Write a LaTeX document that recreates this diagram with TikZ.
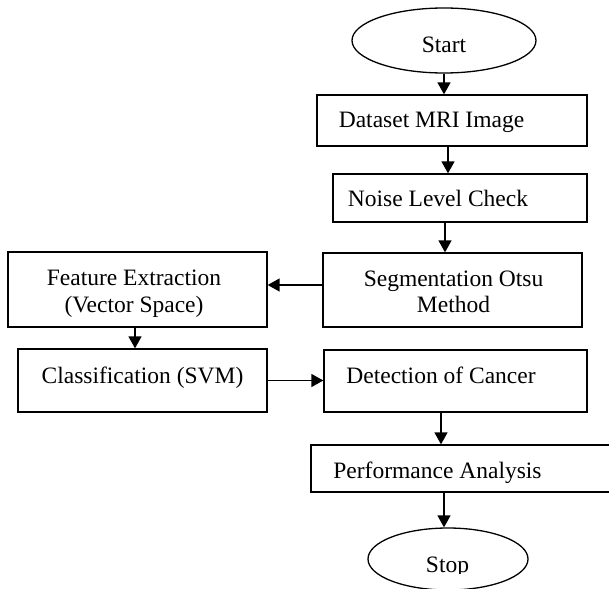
\documentclass[tikz,border=0pt]{standalone}
\usepackage{fontspec}
\setmainfont{Liberation Serif}
\usetikzlibrary{arrows.meta,shapes.geometric}
\begin{document}
\begin{tikzpicture}[x=1bp,y=-1bp,
  box/.style={draw=black,line width=1.3bp,rectangle,inner sep=0pt},
  term/.style={draw=black,line width=1.3bp,ellipse,inner sep=0pt},
  lbl/.style={anchor=base,inner sep=0pt,font=\fontsize{23.5bp}{27bp}\selectfont},
  arr/.style={line width=1.4bp,-{Triangle[length=12bp,width=13bp]}}]
\useasboundingbox (0,0) rectangle (609,589);
\clip (0,0) rectangle (609,589);
% terminals and boxes
\node[term, minimum width=184bp, minimum height=65bp] (st) at (444,40.5) {};
\node[lbl] (stt) at (444,53) {Start};
\node[box, minimum width=270bp, minimum height=51bp] (ds) at (452,120.5) {};
\node[lbl] (dst) at (431.5,128) {Dataset MRI Image};
\node[box, minimum width=254bp, minimum height=48bp] (nl) at (460,198) {};
\node[lbl] (nlt) at (438,206) {Noise Level Check};
\node[box, minimum width=259bp, minimum height=74bp] (seg) at (452.5,290) {};
\node[lbl] (segt1) at (453.5,286) {Segmentation Otsu};
\node[lbl] (segt2) at (453.5,312.5) {Method};
\node[box, minimum width=259bp, minimum height=75bp] (fe) at (137.5,289.5) {};
\node[lbl] (fet1) at (134,285.5) {Feature Extraction};
\node[lbl] (fet2) at (134,312) {(Vector Space)};
\node[box, minimum width=249bp, minimum height=63bp] (cl) at (142.5,380.5) {};
\node[lbl] (clt) at (142.5,383) {Classification (SVM)};
\node[box, minimum width=263bp, minimum height=62bp] (dc) at (455.5,381) {};
\node[lbl] (dct) at (441,383) {Detection of Cancer};
\node[box, minimum width=349bp, minimum height=47bp] (pa) at (485.5,468.5) {};
\node[lbl] (pat) at (437.5,478) {Performance Analysis};
\node[term, minimum width=160bp, minimum height=62bp] (sp) at (448,559) {};
\begin{scope}
\clip (300,500) rectangle (609,573);
\node[lbl] (spt) at (447.5,572) {Stop};
\end{scope}
% connectors
\draw[arr] (st.south) -- (st.south |- ds.north);
\draw[arr] ([xshift=-4bp]ds.south) -- ([xshift=-4bp]ds.south |- nl.north);
\draw[arr] ([xshift=-15bp]nl.south) -- ([xshift=-15bp]nl.south |- seg.north);
\draw[arr] ([yshift=5bp]seg.west) -- ([yshift=5bp]seg.west -| fe.east);
\draw[arr] ([xshift=-2.5bp]fe.south) -- ([xshift=-2.5bp]fe.south |- cl.north);
\draw[arr] (cl.east) -- (cl.east -| dc.west);
\draw[arr] ([xshift=-14.5bp]dc.south) -- ([xshift=-14.5bp]dc.south |- pa.north);
\draw[arr] ([xshift=-4bp]sp.north |- pa.south) -- ([xshift=-4bp]sp.north);
\end{tikzpicture}
\end{document}
